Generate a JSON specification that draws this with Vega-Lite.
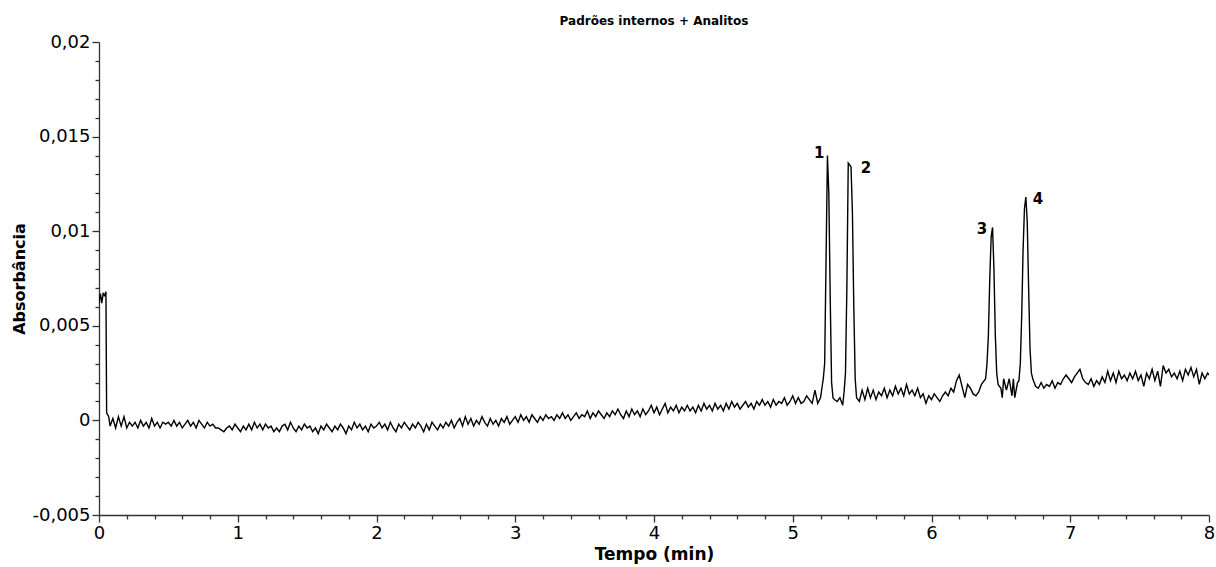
{
  "$schema": "https://vega.github.io/schema/vega-lite/v6.json",
  "autosize": "none",
  "width": 1110,
  "height": 473,
  "padding": {"left": 99, "top": 42, "right": 7, "bottom": 52},
  "background": "white",
  "config": {
    "view": {"stroke": null},
    "axis": {
      "grid": false,
      "domainColor": "#333333",
      "tickColor": "#333333",
      "domainWidth": 1.3,
      "tickWidth": 1.3,
      "labelFont": "DejaVu Sans",
      "labelFontSize": 18,
      "labelColor": "#000000",
      "titleFont": "DejaVu Sans",
      "titleFontWeight": "bold",
      "titleFontSize": 16,
      "titleColor": "#000000"
    }
  },
  "title": {
    "text": "Padrões internos + Analitos",
    "font": "DejaVu Sans",
    "fontSize": 12,
    "fontWeight": "bold",
    "color": "#000000",
    "offset": 5
  },
  "datasets": {
    "trace": [
      {"t":0,"a":0.0062},{"t":0.01,"a":0.0067},{"t":0.02,"a":0.0062},{"t":0.03,"a":0.0067},{"t":0.04,"a":0.0066},{"t":0.05,"a":0.0068},{"t":0.055,"a":0.0004},
      {"t":0.07,"a":0.0002},{"t":0.08,"a":-0.0003},{"t":0.10,"a":0.0001},{"t":0.12,"a":-0.0004},{"t":0.14,"a":0.0002},{"t":0.16,"a":-0.0003},{"t":0.18,"a":0.0002},{"t":0.20,"a":-0.0004},
      {"t":0.22,"a":-0.0001},{"t":0.24,"a":-0.0003},{"t":0.26,"a":-0.0001},{"t":0.28,"a":-0.0004},{"t":0.30,"a":0},{"t":0.32,"a":-0.0003},{"t":0.34,"a":-0.0001},{"t":0.36,"a":-0.0004},
      {"t":0.38,"a":0.0001},{"t":0.40,"a":-0.0003},{"t":0.42,"a":-0.0001},{"t":0.44,"a":-0.0004},{"t":0.46,"a":-0.0001},{"t":0.48,"a":-0.0002},{"t":0.50,"a":-0.0001},{"t":0.52,"a":-0.0003},
      {"t":0.54,"a":0},{"t":0.56,"a":-0.0003},{"t":0.58,"a":-0.0001},{"t":0.60,"a":-0.0004},{"t":0.62,"a":-0.0002},{"t":0.64,"a":0},{"t":0.66,"a":-0.0003},{"t":0.68,"a":-0.0001},
      {"t":0.70,"a":-0.0004},{"t":0.72,"a":0},{"t":0.74,"a":-0.0002},{"t":0.76,"a":-0.0004},{"t":0.78,"a":-0.0001},{"t":0.80,"a":-0.0003},{"t":0.82,"a":-0.0002},{"t":0.84,"a":-0.0004},
      {"t":0.86,"a":-0.0004},{"t":0.88,"a":-0.0005},{"t":0.90,"a":-0.0006},{"t":0.92,"a":-0.0004},{"t":0.94,"a":-0.0003},{"t":0.96,"a":-0.0005},{"t":0.98,"a":-0.0002},{"t":1.00,"a":-0.0004},
      {"t":1.02,"a":-0.0006},{"t":1.04,"a":-0.0003},{"t":1.06,"a":-0.0005},{"t":1.08,"a":-0.0002},{"t":1.10,"a":-0.0005},{"t":1.12,"a":-0.0001},{"t":1.14,"a":-0.0004},{"t":1.16,"a":-0.0002},
      {"t":1.18,"a":-0.0005},{"t":1.20,"a":-0.0002},{"t":1.22,"a":-0.0004},{"t":1.24,"a":-0.0003},{"t":1.26,"a":-0.0006},{"t":1.28,"a":-0.0004},{"t":1.30,"a":-0.0006},{"t":1.32,"a":-0.0003},
      {"t":1.34,"a":-0.0002},{"t":1.36,"a":-0.0005},{"t":1.38,"a":-0.0001},{"t":1.40,"a":-0.0004},{"t":1.42,"a":-0.0006},{"t":1.44,"a":-0.0003},{"t":1.46,"a":-0.0005},{"t":1.48,"a":-0.0002},
      {"t":1.50,"a":-0.0004},{"t":1.52,"a":-0.0003},{"t":1.54,"a":-0.0006},{"t":1.56,"a":-0.0004},{"t":1.58,"a":-0.0007},{"t":1.60,"a":-0.0003},{"t":1.62,"a":-0.0005},{"t":1.64,"a":-0.0002},
      {"t":1.66,"a":-0.0004},{"t":1.68,"a":-0.0006},{"t":1.70,"a":-0.0003},{"t":1.72,"a":-0.0005},{"t":1.74,"a":-0.0002},{"t":1.76,"a":-0.0004},{"t":1.78,"a":-0.0007},{"t":1.80,"a":-0.0003},
      {"t":1.82,"a":-0.0005},{"t":1.84,"a":-0.0001},{"t":1.86,"a":-0.0004},{"t":1.88,"a":-0.0002},{"t":1.90,"a":-0.0005},{"t":1.92,"a":-0.0003},{"t":1.94,"a":-0.0006},{"t":1.96,"a":-0.0002},
      {"t":1.98,"a":-0.0004},{"t":2.00,"a":-0.0003},{"t":2.02,"a":-0.0001},{"t":2.04,"a":-0.0004},{"t":2.06,"a":-0.0002},{"t":2.08,"a":-0.0005},{"t":2.10,"a":-0.0001},{"t":2.12,"a":-0.0004},
      {"t":2.14,"a":-0.0006},{"t":2.16,"a":-0.0002},{"t":2.18,"a":-0.0004},{"t":2.20,"a":-0.0001},{"t":2.22,"a":-0.0003},{"t":2.24,"a":-0.0005},{"t":2.26,"a":-0.0002},{"t":2.28,"a":-0.0004},
      {"t":2.30,"a":-0.0001},{"t":2.32,"a":-0.0003},{"t":2.34,"a":-0.0006},{"t":2.36,"a":-0.0002},{"t":2.38,"a":-0.0005},{"t":2.40,"a":-0.0001},{"t":2.42,"a":-0.0003},{"t":2.44,"a":-0.0005},
      {"t":2.46,"a":-0.0002},{"t":2.48,"a":-0.0004},{"t":2.50,"a":-0.0001},{"t":2.52,"a":-0.0003},{"t":2.54,"a":0},{"t":2.56,"a":-0.0004},{"t":2.58,"a":-0.0001},{"t":2.60,"a":0.0001},
      {"t":2.62,"a":-0.0003},{"t":2.64,"a":0.0002},{"t":2.66,"a":-0.0002},{"t":2.68,"a":0.0001},{"t":2.70,"a":-0.0003},{"t":2.72,"a":0},{"t":2.74,"a":-0.0002},{"t":2.76,"a":0.0002},
      {"t":2.78,"a":-0.0001},{"t":2.80,"a":-0.0003},{"t":2.82,"a":0.0001},{"t":2.84,"a":-0.0002},{"t":2.86,"a":0},{"t":2.88,"a":-0.0003},{"t":2.90,"a":0.0001},{"t":2.92,"a":-0.0001},
      {"t":2.94,"a":0.0002},{"t":2.96,"a":-0.0002},{"t":2.98,"a":0},{"t":3.00,"a":0.0002},{"t":3.02,"a":-0.0001},{"t":3.04,"a":0.0003},{"t":3.06,"a":0},{"t":3.08,"a":0.0002},
      {"t":3.10,"a":-0.0001},{"t":3.12,"a":0.0003},{"t":3.14,"a":0.0001},{"t":3.16,"a":-0.0001},{"t":3.18,"a":0.0002},{"t":3.20,"a":0},{"t":3.22,"a":0.0003},{"t":3.24,"a":0.0001},
      {"t":3.26,"a":0.0002},{"t":3.28,"a":0},{"t":3.30,"a":0.0003},{"t":3.32,"a":0.0001},{"t":3.34,"a":0.0004},{"t":3.36,"a":0.0001},{"t":3.38,"a":0.0003},{"t":3.40,"a":0},
      {"t":3.42,"a":0.0002},{"t":3.44,"a":0.0004},{"t":3.46,"a":0.0001},{"t":3.48,"a":0.0003},{"t":3.50,"a":0.0002},{"t":3.52,"a":0.0005},{"t":3.54,"a":0.0001},{"t":3.56,"a":0.0004},
      {"t":3.58,"a":0.0002},{"t":3.60,"a":0.0005},{"t":3.62,"a":0.0003},{"t":3.64,"a":0.0001},{"t":3.66,"a":0.0004},{"t":3.68,"a":0.0002},{"t":3.70,"a":0.0005},{"t":3.72,"a":0.0003},
      {"t":3.74,"a":0.0006},{"t":3.76,"a":0.0003},{"t":3.78,"a":0.0001},{"t":3.80,"a":0.0005},{"t":3.82,"a":0.0002},{"t":3.84,"a":0.0006},{"t":3.86,"a":0.0003},{"t":3.88,"a":0.0005},
      {"t":3.90,"a":0.0002},{"t":3.92,"a":0.0006},{"t":3.94,"a":0.0003},{"t":3.96,"a":0.0005},{"t":3.98,"a":0.0008},{"t":4.00,"a":0.0004},{"t":4.02,"a":0.0007},{"t":4.04,"a":0.0003},
      {"t":4.06,"a":0.0006},{"t":4.08,"a":0.0009},{"t":4.10,"a":0.0004},{"t":4.12,"a":0.0007},{"t":4.14,"a":0.0005},{"t":4.16,"a":0.0008},{"t":4.18,"a":0.0004},{"t":4.20,"a":0.0007},
      {"t":4.22,"a":0.0005},{"t":4.24,"a":0.0008},{"t":4.26,"a":0.0005},{"t":4.28,"a":0.0007},{"t":4.30,"a":0.0004},{"t":4.32,"a":0.0008},{"t":4.34,"a":0.0005},{"t":4.36,"a":0.0009},
      {"t":4.38,"a":0.0006},{"t":4.40,"a":0.0008},{"t":4.42,"a":0.0005},{"t":4.44,"a":0.0009},{"t":4.46,"a":0.0006},{"t":4.48,"a":0.0008},{"t":4.50,"a":0.0005},{"t":4.52,"a":0.0009},
      {"t":4.54,"a":0.0006},{"t":4.56,"a":0.0010},{"t":4.58,"a":0.0007},{"t":4.60,"a":0.0009},{"t":4.62,"a":0.0006},{"t":4.64,"a":0.0008},{"t":4.66,"a":0.0010},{"t":4.68,"a":0.0007},
      {"t":4.70,"a":0.0009},{"t":4.72,"a":0.0006},{"t":4.74,"a":0.0010},{"t":4.76,"a":0.0008},{"t":4.78,"a":0.0011},{"t":4.80,"a":0.0008},{"t":4.82,"a":0.0010},{"t":4.84,"a":0.0007},
      {"t":4.86,"a":0.0011},{"t":4.88,"a":0.0008},{"t":4.90,"a":0.0010},{"t":4.92,"a":0.0009},{"t":4.94,"a":0.0012},{"t":4.96,"a":0.0008},{"t":4.98,"a":0.0010},{"t":5.00,"a":0.0013},
      {"t":5.02,"a":0.0009},{"t":5.04,"a":0.0012},{"t":5.06,"a":0.0009},{"t":5.08,"a":0.0010},{"t":5.10,"a":0.0013},{"t":5.12,"a":0.0011},{"t":5.14,"a":0.0009},{"t":5.16,"a":0.0016},
      {"t":5.18,"a":0.0009},{"t":5.20,"a":0.0012},{"t":5.21,"a":0.0017},{"t":5.22,"a":0.0022},{"t":5.23,"a":0.0030},{"t":5.24,"a":0.0085},{"t":5.25,"a":0.0140},{"t":5.26,"a":0.0120},
      {"t":5.27,"a":0.0065},{"t":5.28,"a":0.0020},{"t":5.29,"a":0.0012},{"t":5.30,"a":0.0011},{"t":5.32,"a":0.0010},{"t":5.34,"a":0.0012},{"t":5.36,"a":0.0008},{"t":5.37,"a":0.0015},
      {"t":5.38,"a":0.0025},{"t":5.39,"a":0.0070},{"t":5.40,"a":0.0136},{"t":5.41,"a":0.0135},{"t":5.42,"a":0.0134},{"t":5.43,"a":0.0110},{"t":5.44,"a":0.0060},{"t":5.45,"a":0.0022},
      {"t":5.46,"a":0.0012},{"t":5.48,"a":0.0010},{"t":5.50,"a":0.0016},{"t":5.52,"a":0.0011},{"t":5.54,"a":0.0017},{"t":5.56,"a":0.0012},{"t":5.58,"a":0.0016},{"t":5.60,"a":0.0011},
      {"t":5.62,"a":0.0015},{"t":5.64,"a":0.0013},{"t":5.66,"a":0.0017},{"t":5.68,"a":0.0012},{"t":5.70,"a":0.0016},{"t":5.72,"a":0.0013},{"t":5.74,"a":0.0018},{"t":5.76,"a":0.0014},
      {"t":5.78,"a":0.0017},{"t":5.80,"a":0.0013},{"t":5.82,"a":0.0019},{"t":5.84,"a":0.0014},{"t":5.86,"a":0.0016},{"t":5.88,"a":0.0013},{"t":5.90,"a":0.0017},{"t":5.92,"a":0.0012},
      {"t":5.94,"a":0.0014},{"t":5.96,"a":0.0009},{"t":5.98,"a":0.0013},{"t":6.00,"a":0.0011},{"t":6.02,"a":0.0014},{"t":6.04,"a":0.0012},{"t":6.06,"a":0.0010},{"t":6.08,"a":0.0013},
      {"t":6.10,"a":0.0015},{"t":6.12,"a":0.0013},{"t":6.14,"a":0.0017},{"t":6.16,"a":0.0015},{"t":6.18,"a":0.0021},{"t":6.20,"a":0.0024},{"t":6.22,"a":0.0018},{"t":6.24,"a":0.0012},
      {"t":6.26,"a":0.0019},{"t":6.28,"a":0.0017},{"t":6.30,"a":0.0014},{"t":6.32,"a":0.0013},{"t":6.34,"a":0.0015},{"t":6.36,"a":0.0019},{"t":6.38,"a":0.0021},{"t":6.39,"a":0.0022},
      {"t":6.40,"a":0.0030},{"t":6.41,"a":0.0045},{"t":6.42,"a":0.0075},{"t":6.43,"a":0.0097},{"t":6.44,"a":0.0102},{"t":6.45,"a":0.0080},{"t":6.46,"a":0.0045},{"t":6.47,"a":0.0025},
      {"t":6.48,"a":0.0019},{"t":6.50,"a":0.0017},{"t":6.51,"a":0.0012},{"t":6.52,"a":0.0022},{"t":6.54,"a":0.0016},{"t":6.56,"a":0.0022},{"t":6.58,"a":0.0013},{"t":6.59,"a":0.0022},
      {"t":6.60,"a":0.0012},{"t":6.62,"a":0.0020},{"t":6.63,"a":0.0021},{"t":6.64,"a":0.0030},{"t":6.65,"a":0.0055},{"t":6.66,"a":0.0090},{"t":6.67,"a":0.0112},{"t":6.68,"a":0.0118},
      {"t":6.69,"a":0.0105},{"t":6.70,"a":0.0070},{"t":6.71,"a":0.0038},{"t":6.72,"a":0.0025},{"t":6.73,"a":0.0022},{"t":6.75,"a":0.0018},{"t":6.77,"a":0.0017},{"t":6.79,"a":0.0020},
      {"t":6.81,"a":0.0017},{"t":6.83,"a":0.0019},{"t":6.85,"a":0.0018},{"t":6.87,"a":0.0021},{"t":6.89,"a":0.0017},{"t":6.91,"a":0.0020},{"t":6.93,"a":0.0019},{"t":6.95,"a":0.0022},
      {"t":6.97,"a":0.0024},{"t":6.99,"a":0.0022},{"t":7.01,"a":0.0020},{"t":7.03,"a":0.0023},{"t":7.05,"a":0.0025},{"t":7.07,"a":0.0027},{"t":7.09,"a":0.0022},{"t":7.11,"a":0.0020},
      {"t":7.13,"a":0.0019},{"t":7.15,"a":0.0022},{"t":7.17,"a":0.0018},{"t":7.19,"a":0.0021},{"t":7.21,"a":0.0019},{"t":7.23,"a":0.0023},{"t":7.25,"a":0.0020},{"t":7.27,"a":0.0026},
      {"t":7.29,"a":0.0021},{"t":7.31,"a":0.0025},{"t":7.33,"a":0.0020},{"t":7.35,"a":0.0026},{"t":7.37,"a":0.0022},{"t":7.39,"a":0.0024},{"t":7.41,"a":0.0021},{"t":7.43,"a":0.0025},
      {"t":7.45,"a":0.0022},{"t":7.47,"a":0.0026},{"t":7.49,"a":0.0021},{"t":7.51,"a":0.0024},{"t":7.53,"a":0.0018},{"t":7.55,"a":0.0025},{"t":7.57,"a":0.0022},{"t":7.59,"a":0.0027},
      {"t":7.61,"a":0.0021},{"t":7.63,"a":0.0026},{"t":7.65,"a":0.0018},{"t":7.67,"a":0.0029},{"t":7.69,"a":0.0025},{"t":7.71,"a":0.0027},{"t":7.73,"a":0.0023},{"t":7.75,"a":0.0025},
      {"t":7.77,"a":0.0022},{"t":7.79,"a":0.0026},{"t":7.81,"a":0.0021},{"t":7.83,"a":0.0027},{"t":7.85,"a":0.0024},{"t":7.87,"a":0.0028},{"t":7.89,"a":0.0023},{"t":7.91,"a":0.0027},
      {"t":7.93,"a":0.0019},{"t":7.95,"a":0.0025},{"t":7.97,"a":0.0022},{"t":7.99,"a":0.0025},{"t":8.00,"a":0.0024}
    ],
    "labels": [
      {"t":5.19,"a":0.01413,"label":"1"},
      {"t":5.528,"a":0.01334,"label":"2"},
      {"t":6.364,"a":0.01012,"label":"3"},
      {"t":6.768,"a":0.0117,"label":"4"}
    ]
  },
  "resolve": {"axis": {"x": "independent", "y": "independent"}},
  "layer": [
    {
      "data": {"name": "trace"},
      "mark": {"type": "line", "color": "#000000", "strokeWidth": 1.4, "clip": true},
      "encoding": {
        "x": {
          "field": "t", "type": "quantitative",
          "scale": {"domain": [0, 8], "nice": false, "zero": false},
          "axis": {
            "orient": "bottom",
            "title": "Tempo (min)",
            "titleFontSize": 17,
            "titlePadding": 4,
            "labelOverlap": false,
            "labelFlush": false,
            "values": [0,1,2,3,4,5,6,7,8],
            "tickSize": 7,
            "labelPadding": 2,
            "format": "d"
          }
        },
        "y": {
          "field": "a", "type": "quantitative",
          "scale": {"domain": [-0.005, 0.02], "nice": false, "zero": false},
          "axis": {
            "orient": "left",
            "title": "Absorbância",
            "titlePadding": 4,
            "labelOverlap": false,
            "labelFlush": false,
            "values": [-0.005,0,0.005,0.01,0.015,0.02],
            "tickSize": 7,
            "labelPadding": 2,
            "labelExpr": "replace(replace(format(datum.value, '~g'), '.', ','), '\u2212', '-')"
          }
        }
      }
    },
    {
      "data": {"name": "labels"},
      "mark": {"type": "text", "font": "DejaVu Sans", "fontWeight": "bold", "fontSize": 15, "color": "#000000", "align": "center", "baseline": "middle"},
      "encoding": {
        "x": {
          "field": "t", "type": "quantitative",
          "axis": {
            "orient": "bottom",
            "title": null,
            "labels": false,
            "domain": false,
            "tickSize": 4,
            "values": [0.2,0.4,0.6,0.8,1.2,1.4,1.6,1.8,2.2,2.4,2.6,2.8,3.2,3.4,3.6,3.8,4.2,4.4,4.6,4.8,5.2,5.4,5.6,5.8,6.2,6.4,6.6,6.8,7.2,7.4,7.6,7.8]
          }
        },
        "y": {
          "field": "a", "type": "quantitative",
          "axis": {
            "orient": "left",
            "title": null,
            "labels": false,
            "domain": false,
            "tickSize": 4,
            "values": [-0.004,-0.003,-0.002,-0.001,0.001,0.002,0.003,0.004,0.006,0.007,0.008,0.009,0.011,0.012,0.013,0.014,0.016,0.017,0.018,0.019]
          }
        },
        "text": {"field": "label", "type": "nominal"}
      }
    }
  ]
}
